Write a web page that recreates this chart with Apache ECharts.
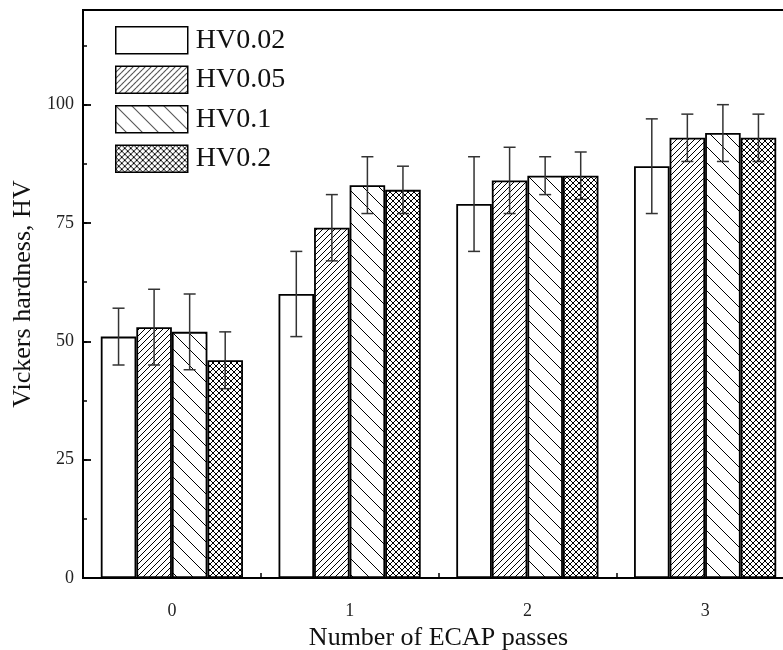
<!DOCTYPE html>
<html>
<head>
<meta charset="utf-8">
<script src="https://cdn.jsdelivr.net/npm/echarts@6/dist/echarts.min.js"></script>
<style>
html,body{margin:0;padding:0;background:#fff;}
#chart{width:783px;height:650px;}
</style>
</head>
<body>
<div id="chart"></div>
<script>
// ---- data ----
var categories = ['0', '1', '2', '3'];
var seriesNames = ['HV0.02', 'HV0.05', 'HV0.1', 'HV0.2'];
var hv002 = [51, 60, 79, 87];
var hv005 = [53, 74, 84, 93];
var hv01  = [52, 83, 85, 94];
var hv02  = [46, 82, 85, 93];
var hv002Err = [6, 9, 10, 10];
var hv005Err = [8, 7, 7, 5];
var hv01Err  = [8, 6, 4, 6];
var hv02Err  = [6, 5, 5, 5];
var yTicks = [0, 25, 50, 75, 100];

var values = [hv002, hv005, hv01, hv02];
var errors = [hv002Err, hv005Err, hv01Err, hv02Err];

// ---- patterns ----
function makeTile(size, draw) {
  var c = document.createElement('canvas');
  c.width = size; c.height = size;
  var ctx = c.getContext('2d');
  ctx.fillStyle = '#fff';
  ctx.fillRect(0, 0, size, size);
  ctx.strokeStyle = '#000';
  ctx.lineWidth = 1;
  draw(ctx, size);
  return c;
}
function fwd(ctx, s) {
  ctx.beginPath();
  ctx.moveTo(-1, s + 1); ctx.lineTo(s + 1, -1);
  ctx.moveTo(-1, 1); ctx.lineTo(1, -1);
  ctx.moveTo(s - 1, s + 1); ctx.lineTo(s + 1, s - 1);
  ctx.stroke();
}
function bwd(ctx, s) {
  ctx.beginPath();
  ctx.moveTo(-1, -1); ctx.lineTo(s + 1, s + 1);
  ctx.moveTo(s - 1, -1); ctx.lineTo(s + 1, 1);
  ctx.moveTo(-1, s - 1); ctx.lineTo(1, s + 1);
  ctx.stroke();
}
var patFwd = makeTile(6, fwd);
var patBwd = makeTile(16, bwd);
var patCross = makeTile(6, function (ctx, s) { fwd(ctx, s); bwd(ctx, s); });

var fills = [
  '#ffffff',
  { image: patFwd, repeat: 'repeat' },
  { image: patBwd, repeat: 'repeat' },
  { image: patCross, repeat: 'repeat' }
];

var FONT = 'Liberation Serif';
var chart = echarts.init(document.getElementById('chart'), null, { renderer: 'canvas' });

var series = [];
values.forEach(function (vals, i) {
  series.push({
    name: seriesNames[i],
    type: 'bar',
    xAxisIndex: 0,
    yAxisIndex: 0,
    barWidth: '20%',
    barGap: '0%',
    data: vals,
    itemStyle: { color: fills[i], borderColor: '#000', borderWidth: 1.8 },
    emphasis: { disabled: true },
    z: 2
  });
});
values.forEach(function (vals, i) {
  var errData = vals.map(function (v, k) { return [k, v - errors[i][k], v + errors[i][k]]; });
  series.push({
    type: 'custom',
    xAxisIndex: 0,
    yAxisIndex: 0,
    data: errData,
    z: 5,
    silent: true,
    renderItem: function (params, api) {
      var band = api.size([1, 0])[0];
      var bw = band * 0.2;
      var cx = api.coord([api.value(0), 0])[0] + (i - 1.5) * bw;
      var yLo = api.coord([api.value(0), api.value(1)])[1];
      var yHi = api.coord([api.value(0), api.value(2)])[1];
      var hw = 6;
      var st = { stroke: '#333', lineWidth: 1.5 };
      return {
        type: 'group',
        children: [
          { type: 'line', shape: { x1: cx, y1: yLo, x2: cx, y2: yHi }, style: st },
          { type: 'line', shape: { x1: cx - hw, y1: yHi, x2: cx + hw, y2: yHi }, style: st },
          { type: 'line', shape: { x1: cx - hw, y1: yLo, x2: cx + hw, y2: yLo }, style: st }
        ]
      };
    }
  });
});

chart.setOption({
  animation: false,
  backgroundColor: '#fff',
  textStyle: { fontFamily: FONT },
  grid: {
    left: 83, top: 10, width: 711, bottom: 72,
    outerBoundsMode: 'none',
    containLabel: false,
    show: true, borderColor: '#000', borderWidth: 2, backgroundColor: 'transparent'
  },
  legend: {
    orient: 'vertical',
    left: 115,
    top: 26,
    padding: 0,
    itemWidth: 72,
    itemHeight: 27,
    itemGap: 11,
    icon: 'rect',
    data: seriesNames,
    itemStyle: { borderColor: '#000', borderWidth: 1.5 },
    textStyle: { fontFamily: FONT, fontSize: 28, color: '#111', padding: [0, 0, 0, 3] }
  },
  xAxis: [{
    type: 'category',
    data: categories,
    boundaryGap: true,
    axisLine: { lineStyle: { color: '#000', width: 2 } },
    axisTick: { show: true, inside: true, length: 5, interval: 0, lineStyle: { color: '#000', width: 1.5 } },
    axisLabel: { fontFamily: FONT, fontSize: 18, color: '#222', margin: 24 },
    splitLine: { show: false },
    name: 'Number of ECAP passes',
    nameLocation: 'middle',
    nameGap: 44,
    nameTextStyle: { fontFamily: FONT, fontSize: 26, color: '#111' }
  }],
  yAxis: [{
    type: 'value',
    min: 0,
    max: 120,
    interval: 25,
    axisLine: { show: true, lineStyle: { color: '#000', width: 2 } },
    axisTick: { show: true, inside: true, length: 8, lineStyle: { color: '#000', width: 1.8 } },
    axisLabel: {
      fontFamily: FONT, fontSize: 18, color: '#222', margin: 9, showMaxLabel: false,
      formatter: function (v) { return yTicks.indexOf(v) >= 0 ? String(v) : ''; }
    },
    splitLine: { show: false },
    name: 'Vickers hardness, HV',
    nameLocation: 'middle',
    nameGap: 29,
    nameTextStyle: { fontFamily: FONT, fontSize: 26, color: '#111' }
  }, {
    type: 'value',
    position: 'left',
    min: 0,
    max: 120,
    interval: 12.5,
    axisLine: { show: false },
    axisTick: { show: true, inside: true, length: 4, lineStyle: { color: '#000', width: 1.5 } },
    axisLabel: { show: false },
    splitLine: { show: false }
  }],
  series: series
});
</script>
</body>
</html>
